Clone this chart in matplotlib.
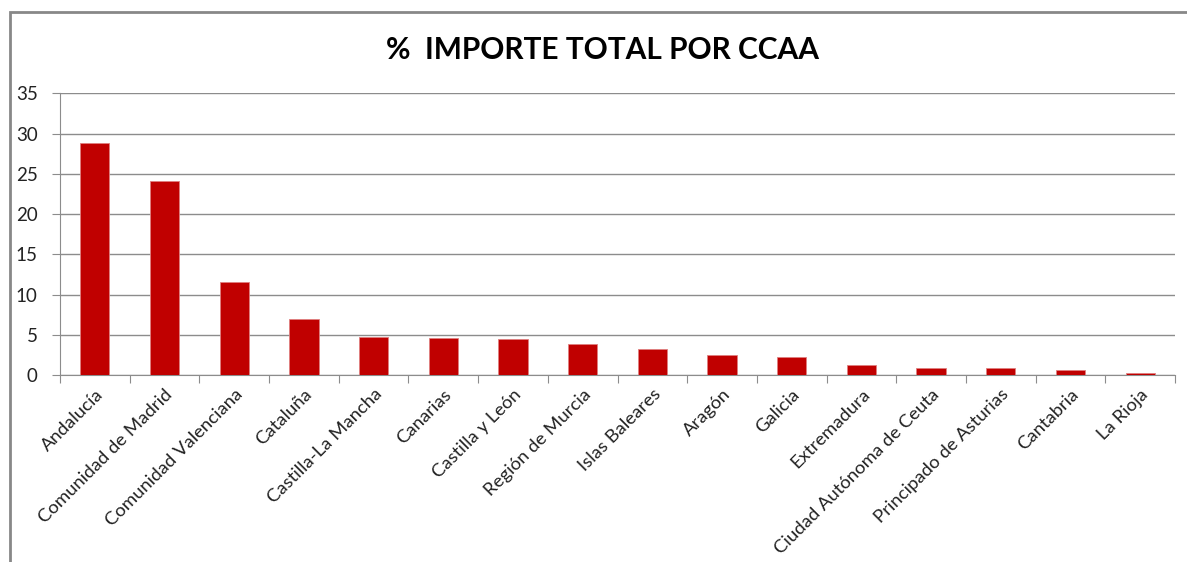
import matplotlib.pyplot as plt
from matplotlib.patches import Rectangle

plt.rcParams['font.family'] = ['Lato', 'DejaVu Sans']

# Data
regiones = ['Andalucía', 'Comunidad de Madrid', 'Comunidad Valenciana', 'Cataluña',
            'Castilla-La Mancha', 'Canarias', 'Castilla y León', 'Región de Murcia',
            'Islas Baleares', 'Aragón', 'Galicia', 'Extremadura',
            'Ciudad Autónoma de Ceuta', 'Principado de Asturias', 'Cantabria', 'La Rioja']
porcentaje = [28.8, 24.1, 11.6, 7.0, 4.7, 4.6, 4.5, 3.85,
              3.2, 2.5, 2.2, 1.25, 0.9, 0.9, 0.65, 0.2]
y_ticks = [0, 5, 10, 15, 20, 25, 30, 35]

W, H = 1187, 562
fig = plt.figure(figsize=(W / 100, H / 100), dpi=100)

# outer chart border (cut off at right/bottom like the screenshot)
fig.patches.append(Rectangle((10 / W, -0.1), 1.2, 1 - 12 / H + 0.1,
                             transform=fig.transFigure, fill=False,
                             edgecolor='#888888', linewidth=2))

ax = fig.add_axes([60 / W, 1 - 375 / H, (1175 - 60) / W, (375 - 93.3) / H])
x = list(range(len(regiones)))
ax.bar(x, porcentaje, width=0.42, color='#C00000', edgecolor='#E08080',
       linewidth=0.6, zorder=3)

ax.set_xlim(-0.5, len(regiones) - 0.5)
ax.set_ylim(0, 35)
ax.set_yticks(y_ticks)
ax.yaxis.grid(True, color='#8c8c8c', linewidth=1)
ax.set_axisbelow(True)

for s in ['top', 'right']:
    ax.spines[s].set_visible(False)
for s in ['left', 'bottom']:
    ax.spines[s].set_color('#8c8c8c')

# x ticks between categories, labels centered on bars
ax.set_xticks([i - 0.5 for i in range(len(regiones) + 1)])
ax.set_xticklabels([])
ax.set_xticks(x, minor=True)
ax.set_xticklabels(regiones, minor=True, rotation=45, ha='right',
                   rotation_mode='anchor', fontsize=13.3, color='#222222')
ax.tick_params(axis='x', which='major', length=6, color='#8c8c8c', direction='out')
ax.tick_params(axis='x', which='minor', length=0, pad=8)
ax.tick_params(axis='y', length=6, color='#8c8c8c', labelsize=13.5,
               labelcolor='#222222', pad=10)

fig.text(0.508, 1 - 50 / H, '%  IMPORTE TOTAL POR CCAA', ha='center', va='center',
         fontsize=21.5, fontweight='bold', color='black')

fig.savefig('out.png', dpi=100)
